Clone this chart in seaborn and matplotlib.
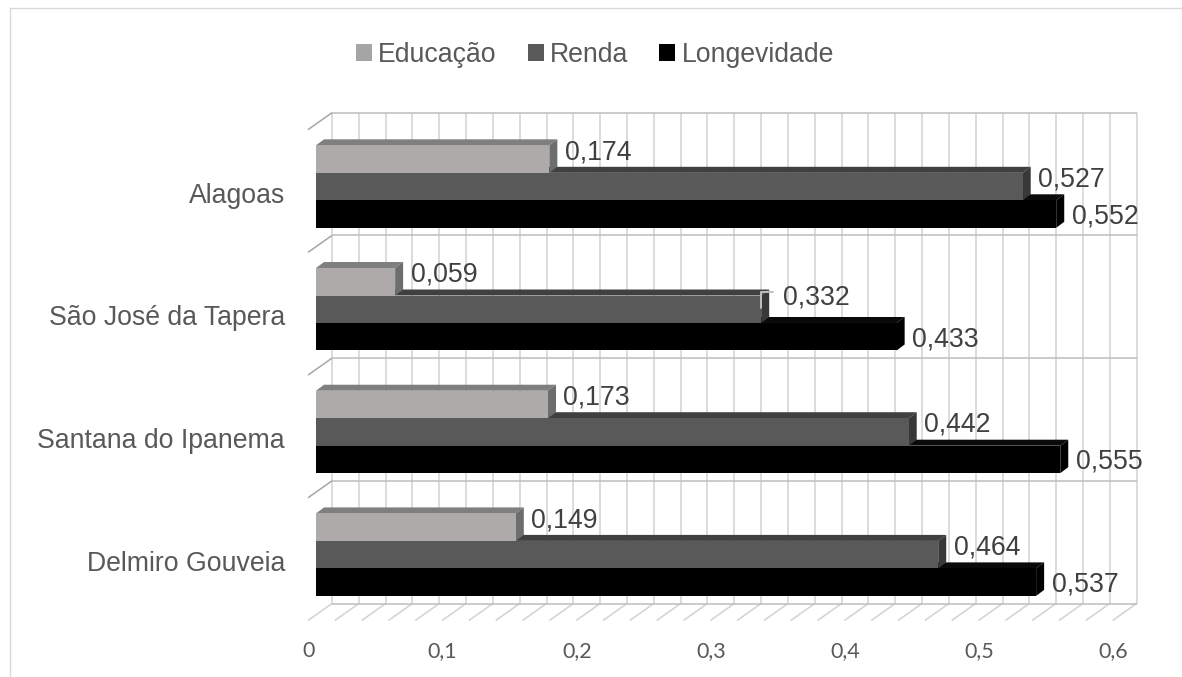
import numpy as np
import pandas as pd
import matplotlib
matplotlib.use("Agg")
import matplotlib.pyplot as plt
import seaborn as sns
from matplotlib.patches import Polygon, Patch
from matplotlib.lines import Line2D
from matplotlib.transforms import IdentityTransform

# ---- data -------------------------------------------------------------
municipios = ["Alagoas", "São José da Tapera", "Santana do Ipanema", "Delmiro Gouveia"]
componentes = ["Educação", "Renda", "Longevidade"]
educacao = [0.174, 0.059, 0.173, 0.149]
renda = [0.527, 0.332, 0.442, 0.464]
longevidade = [0.552, 0.433, 0.555, 0.537]
x_ticks = [0, 0.1, 0.2, 0.3, 0.4, 0.5, 0.6]
x_tick_labels = ["0", "0,1", "0,2", "0,3", "0,4", "0,5", "0,6"]

# ---- styling ----------------------------------------------------------
front_col = {"Educação": "#aeaaaa", "Renda": "#595959", "Longevidade": "#000000"}
top_col = {"Educação": "#7f7f7f", "Renda": "#404040", "Longevidade": "#0a0a0a"}
side_col = {"Educação": "#6d6d6d", "Renda": "#383838", "Longevidade": "#000000"}
legend_col = {"Educação": "#a5a5a5", "Renda": "#595959", "Longevidade": "#000000"}
GRID_V = "#d2d2d2"
GRID_H = "#bdbdbd"
TXT = "#595959"
VAL_TXT = "#404040"
FS = 19.2

sns.set_theme(style="white")
plt.rcParams["font.family"] = ["Liberation Sans", "DejaVu Sans"]

W, H = 1182, 677
fig = plt.figure(figsize=(W / 100, H / 100), dpi=100)

# front plane of the 3-D box (pixels from top-left)
left_px, right_px = 316.0, 316.0 + 0.6 * 1341
top_px, bot_px = 125.2, 616.0
ax = fig.add_axes([left_px / W, 1 - bot_px / H,
                   (right_px - left_px) / W, (bot_px - top_px) / H])

df = pd.DataFrame({
    "Município": municipios * 3,
    "Componente": np.repeat(componentes, len(municipios)),
    "Valor": educacao + renda + longevidade,
})

sns.barplot(data=df, x="Valor", y="Município", hue="Componente",
            order=municipios, hue_order=componentes, orient="h",
            palette=[front_col[c] for c in componentes], saturation=1,
            width=0.672, linewidth=0, legend=False, ax=ax)
ax.set_xlim(0, 0.6)
ax.set_ylim(3.5, -0.5)
ax.axis("off")

ID = IdentityTransform()


def D(x, y, ox=0.0, oy=0.0):
    """Data point -> display pixels, shifted by (ox, oy) image pixels (oy down)."""
    p = ax.transData.transform((x, y))
    return (p[0] + ox, p[1] - oy)


def seg(p, q, color, lw=1.1, z=1):
    ax.add_artist(Line2D([p[0], q[0]], [p[1], q[1]], transform=ID, color=color,
                         lw=lw, zorder=z, clip_on=False, solid_capstyle="butt"))


# back wall and floor of the box
BX, BY = 16.0, -12.5          # back wall relative to the bar front plane
FX, FY = BX - 24.0, BY + 17.0  # front edge of floor / side wall
minor = np.round(np.arange(0, 0.6001, 0.02), 3)
for v in minor:
    seg(D(v, -0.5, BX, BY), D(v, 3.5, BX, BY), GRID_V, z=1)
    seg(D(v, 3.5, BX, BY), D(v, 3.5, FX, FY), GRID_V, z=1)
for b in [-0.5, 0.5, 1.5, 2.5, 3.5]:
    seg(D(0, b, BX, BY), D(0.6, b, BX, BY), GRID_H, z=1.1)
for b in [-0.5, 0.5, 1.5, 2.5]:
    seg(D(0, b, BX, BY), D(0, b, FX, FY), "#a6a6a6", z=1.1)

# 3-D faces of the bars
DX, DY = 8.0, -6.0
values = {"Educação": educacao, "Renda": renda, "Longevidade": longevidade}
label_nudge = {("São José da Tapera", "Renda"): (6.0, -5.0)}
for k, (comp, cont) in enumerate(zip(componentes, ax.containers)):
    zf = 10 - 3 * k
    for i, bar in enumerate(cont.patches):
        bar.set_zorder(zf + 0.5)
        x1 = bar.get_x() + bar.get_width()
        y0, y1 = bar.get_y(), bar.get_y() + bar.get_height()
        top = [D(0, y0), D(x1, y0), D(x1, y0, DX, DY), D(0, y0, DX, DY)]
        side = [D(x1, y0), D(x1, y1), D(x1, y1, DX, DY), D(x1, y0, DX, DY)]
        ax.add_artist(Polygon(top, closed=True, transform=ID, facecolor=top_col[comp],
                              edgecolor="none", zorder=zf, clip_on=False))
        ax.add_artist(Polygon(side, closed=True, transform=ID, facecolor=side_col[comp],
                              edgecolor="none", zorder=zf, clip_on=False))
        # value label
        yc = (y0 + y1) / 2
        dy_lab = 2.5 if comp == "Longevidade" else -7.0
        nx, ny = label_nudge.get((municipios[i], comp), (0.0, 0.0))
        tx, ty = D(x1, yc, 15.5 + nx, dy_lab + ny)
        txt = f"{values[comp][i]:.3f}".replace(".", ",")
        ax.text(tx, ty, txt, transform=ID, ha="left", va="center",
                fontsize=FS, color=VAL_TXT, zorder=20, clip_on=False)
        if (municipios[i], comp) in label_nudge:
            a = D(x1, yc, 0, -1.5)
            b = D(x1, yc, 0, -17.5)
            c = D(x1, yc, 12, -17.5)
            ax.add_artist(Line2D([a[0], b[0], c[0]], [a[1], b[1], c[1]], transform=ID,
                                 color="#bfbfbf", lw=1.4, zorder=19, clip_on=False))

# category labels
for i, name in enumerate(municipios):
    tx, ty = D(0, i, -31, 9)
    ax.text(tx, ty, name, transform=ID, ha="right", va="center",
            fontsize=FS, color=TXT, clip_on=False)

# value axis labels
for v, lab in zip(x_ticks, x_tick_labels):
    tx, ty = D(v, 3.5, -7.5, 35)
    ax.text(tx, ty, lab, transform=ID, ha="center", va="center",
            fontsize=15.5, color=TXT, family=["Lato", "DejaVu Sans"], clip_on=False)

# legend
handles = [Patch(facecolor=legend_col[c], edgecolor="none") for c in componentes]
fig.legend(handles, componentes, loc="center", bbox_to_anchor=(595 / W, 1 - 55 / H),
           ncol=3, frameon=False, fontsize=FS, handlelength=0.6, handleheight=0.6,
           handletextpad=0.25, columnspacing=1.15, labelcolor=TXT, borderpad=0)

# chart area border
fig.add_artist(Line2D([10 / W, 1], [1 - 8 / H, 1 - 8 / H], transform=fig.transFigure,
                      color="#d9d9d9", lw=1))
fig.add_artist(Line2D([10 / W, 10 / W], [0, 1 - 8 / H], transform=fig.transFigure,
                      color="#d9d9d9", lw=1))

fig.savefig("out.png", dpi=100)
